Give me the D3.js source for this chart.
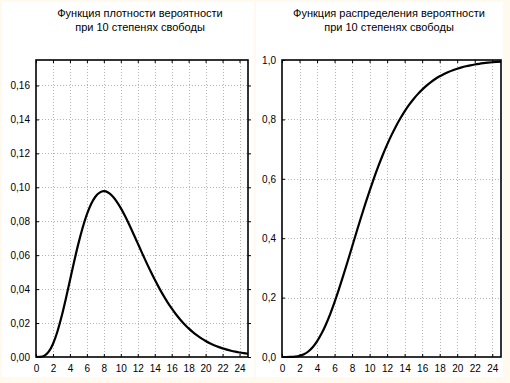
<!DOCTYPE html>
<html>
<head>
<meta charset="utf-8">
<script src="https://cdn.jsdelivr.net/npm/d3@7"></script>
<style>
html,body{margin:0;padding:0;background:#fff9ee;}
svg{display:block;}
text{font-family:Arial,"Liberation Sans",sans-serif;}
</style>
</head>
<body>
<svg id="c" width="510" height="383"></svg>
<script>
// ---- data ----
const xValues = [0,0.5,1,1.5,2,2.5,3,3.5,4,4.5,5,5.5,6,6.5,7,7.5,8,8.5,9,9.5,10,10.5,11,11.5,12,12.5,13,13.5,14,14.5,15,15.5,16,16.5,17,17.5,18,18.5,19,19.5,20,20.5,21,21.5,22,22.5,23,23.5,24,24.5,25];
const pdfValues = [0,0.000063,0.00079,0.00311,0.00766,0.01457,0.02353,0.03395,0.04511,0.05628,0.06680,0.07617,0.08402,0.09012,0.09441,0.09689,0.09768,0.09695,0.09490,0.09176,0.08773,0.08305,0.07791,0.07248,0.06693,0.06137,0.05591,0.05064,0.04561,0.04088,0.03646,0.03237,0.02863,0.02521,0.02213,0.01935,0.01687,0.01466,0.01270,0.01098,0.00946,0.00813,0.00697,0.00597,0.00509,0.00434,0.00369,0.00313,0.00265,0.00225,0.00190];
const cdfValues = [0,0.0000066,0.00017,0.00107,0.00366,0.00912,0.01858,0.03290,0.05265,0.07801,0.10882,0.14462,0.18474,0.22835,0.27456,0.32245,0.37116,0.41988,0.46790,0.51460,0.55951,0.60223,0.64248,0.68009,0.71494,0.74701,0.77633,0.80296,0.82701,0.84862,0.86794,0.88513,0.90037,0.91381,0.92564,0.93599,0.94504,0.95291,0.95974,0.96565,0.97075,0.97514,0.97891,0.98214,0.98490,0.98725,0.98925,0.99096,0.99240,0.99362,0.99465];
const xTicks = [0,2,4,6,8,10,12,14,16,18,20,22,24];
const pdfTicks = [0,0.02,0.04,0.06,0.08,0.10,0.12,0.14,0.16];
const cdfTicks = [0,0.2,0.4,0.6,0.8,1.0];
const titlesLeft = ["Функция плотности вероятности","при 10 степенях свободы"];
const titlesRight = ["Функция распределения вероятности","при 10 степенях свободы"];

const svg = d3.select("#c");
svg.append("rect").attr("x",0).attr("y",0).attr("width",510).attr("height",383).attr("fill","#fff9ee");
svg.append("rect").attr("x",2).attr("y",2).attr("width",252).attr("height",375).attr("fill","#ffffff");
svg.append("rect").attr("x",256).attr("y",2).attr("width",247).attr("height",375).attr("fill","#ffffff");

const comma = v => v.toString().replace(".", ",");

function panel(o){
  const x = d3.scaleLinear().domain([0,25]).range([o.x0,o.x1]);
  const y = d3.scaleLinear().domain([0,o.ymax]).range([o.y1,o.y0]);
  const g = svg.append("g");
  // grid
  g.selectAll("line.vg").data(o.xTicks.filter(d=>d>0)).enter().append("line")
    .attr("x1",d=>Math.round(x(d))+0.5).attr("x2",d=>Math.round(x(d))+0.5)
    .attr("y1",o.y0).attr("y2",o.y1)
    .attr("stroke","#b4b4b4").attr("stroke-width",1).attr("stroke-dasharray","1,2");
  g.selectAll("line.hg").data(o.yTicks.filter(d=>d>0 && y(d)>o.y0+1)).enter().append("line")
    .attr("y1",d=>Math.round(y(d))+0.5).attr("y2",d=>Math.round(y(d))+0.5)
    .attr("x1",o.x0).attr("x2",o.x1)
    .attr("stroke","#b4b4b4").attr("stroke-width",1).attr("stroke-dasharray","1,2");
  // curve
  const line = d3.line().x((d,i)=>x(xValues[i])).y(d=>y(d)).curve(d3.curveMonotoneX);
  g.append("path").datum(o.values).attr("d",line).attr("fill","none")
    .attr("stroke","#000").attr("stroke-width",2.2).attr("stroke-linejoin","round");
  // axes
  const ax = (gen, tx, ty) => {
    const a = g.append("g").attr("transform",`translate(${tx},${ty})`).call(gen);
    a.select(".domain").remove();
    a.selectAll("line").attr("stroke","#000");
    a.selectAll("text").attr("fill","#000").style("font-size","10px").style("font-family","Arial,'Liberation Sans',sans-serif");
    return a;
  };
  ax(d3.axisBottom(x).tickValues(o.xTicks).tickSize(-3).tickPadding(8).tickFormat(d=>d), 0, o.y1);
  ax(d3.axisTop(x).tickValues(o.xTicks).tickSize(-3).tickFormat(""), 0, o.y0);
  ax(d3.axisLeft(y).tickValues(o.yTicks).tickSize(-3).tickPadding(6).tickFormat(o.fmt), o.x0, 0);
  if(o.rightTicks) ax(d3.axisRight(y).tickValues(o.yTicks).tickSize(3).tickFormat(""), o.x1, 0);
  // frame
  g.append("rect").attr("x",o.x0).attr("y",o.y0).attr("width",o.x1-o.x0).attr("height",o.y1-o.y0)
    .attr("fill","none").attr("stroke","#000").attr("stroke-width",1.6);
  // title
  const t = g.append("text").attr("text-anchor","middle").attr("fill","#000").style("font-size","11px");
  o.titles.forEach((s,i)=>t.append("tspan").attr("x",o.tx).attr("y",17+i*14).text(s));
}

panel({x0:36,x1:248,y0:60,y1:357,ymax:0.175,values:pdfValues,xTicks:xTicks,yTicks:pdfTicks,
  fmt:d=>d3.format(".2f")(d).replace(".",","),titles:titlesLeft,tx:140,rightTicks:true});
panel({x0:282,x1:501,y0:60,y1:357,ymax:1.0,values:cdfValues,xTicks:xTicks,yTicks:cdfTicks,
  fmt:d=>d3.format(".1f")(d).replace(".",","),titles:titlesRight,tx:389,rightTicks:false});
</script>
</body>
</html>
